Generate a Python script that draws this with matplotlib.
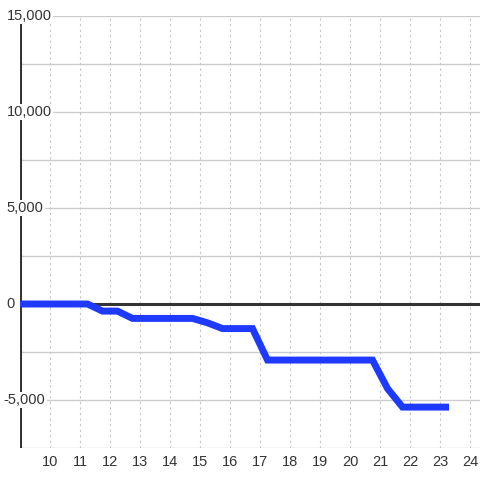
import matplotlib
matplotlib.use('Agg')
import matplotlib.pyplot as plt

plt.rcParams['font.family'] = ['Liberation Sans', 'DejaVu Sans']

# data
hours = [9, 11.25, 11.75, 12.25, 12.75, 14.75, 15.25, 15.75, 16.75, 17.25,
         20.75, 21.25, 21.75, 23.3]
values = [0, 0, -370, -370, -750, -750, -980, -1280, -1280, -2920,
          -2920, -4400, -5370, -5370]
x_ticks = list(range(10, 25))
y_label_vals = [15000, 10000, 5000, 0, -5000]
y_grid = list(range(-7500, 15001, 2500))

fig = plt.figure(figsize=(4.8, 4.8), dpi=100)
ax = fig.add_axes([20 / 480, 32 / 480, 460 / 480, 432 / 480])
ax.set_xlim(9, 24 + 1 / 3)
ax.set_ylim(-7500, 15000)

for s in ax.spines.values():
    s.set_visible(False)

for y in y_grid:
    ax.axhline(y, color='#cccccc', lw=1, zorder=1)
for x in x_ticks:
    ax.axvline(x, color='#c4c4c4', lw=0.8, ls=(0, (2, 3)), zorder=1)

ax.axvline(9, color='#333333', lw=2.2, zorder=2)
ax.axhline(0, color='#333333', lw=2.2, zorder=2)

ax.plot(hours, values, color='#1f3aff', lw=5, zorder=4,
        solid_joinstyle='miter', solid_capstyle='butt')

ax.set_yticks([])
ax.set_xticks(x_ticks)
ax.set_xticklabels([str(t) for t in x_ticks], fontsize=10.5, color='#333333')
ax.tick_params(axis='x', length=0, pad=5)

# y labels sit over the axis line, with a white box behind them
for v in y_label_vals:
    x0 = 8.55 if v != -5000 else 8.45
    ax.text(x0, v, f'{v:,}', fontsize=10.5, color='#333333',
            ha='left', va='center', zorder=5,
            bbox=dict(facecolor='white', edgecolor='none', pad=1.0))

fig.savefig('out.png', dpi=100)
